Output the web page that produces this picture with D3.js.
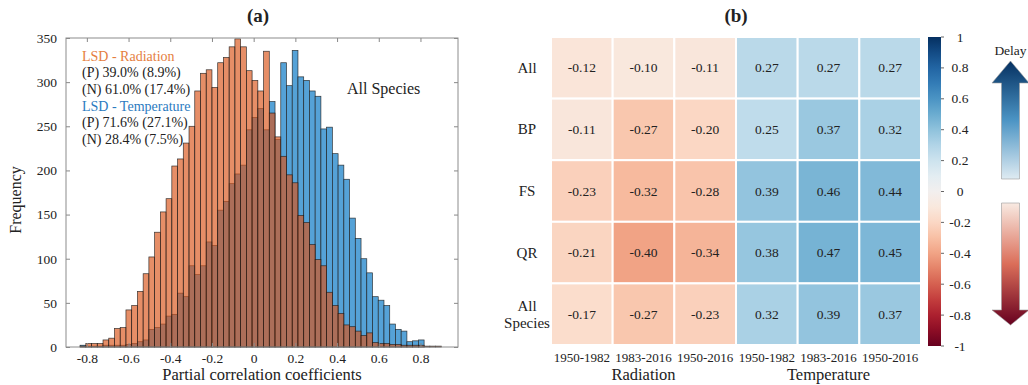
<!DOCTYPE html>
<html>
<head>
<meta charset="utf-8">
<script src="https://cdn.jsdelivr.net/npm/d3@7"></script>
<style>
  body { margin: 0; background: #fff; }
  svg text { font-family: "Liberation Serif", "Times New Roman", serif; fill: #222; }
</style>
</head>
<body>
<div id="chart"></div>
<script>
// ---- (a) histogram data ----
var binStart = -0.8325;
var binWidth = 0.0275;
var radiationCounts = [1, 4, 4, 4, 8, 10, 21, 22, 42, 47, 63, 83, 102, 130, 153, 168, 205, 213, 231, 250,
  290, 310, 314, 294, 322, 328, 340, 349, 340, 313, 302, 290, 335, 265, 238, 216, 195, 186, 149, 141,
  116, 99, 92, 62, 47, 38, 25, 23, 18, 13, 16, 5, 4, 4, 3, 3, 2, 2, 2, 2, 1, 1, 1];
var temperatureCounts = [2, 1, 1, 1, 2, 2, 2, 2, 3, 4, 6, 8, 20, 22, 26, 35, 37, 61, 57, 92,
  82, 92, 119, 115, 155, 165, 185, 196, 206, 246, 260, 270, 246, 278, 235, 322, 296, 336, 306, 302,
  290, 284, 247, 249, 219, 206, 190, 146, 123, 100, 84, 57, 53, 47, 26, 20, 18, 6, 7, 8, 0, 0, 0];
var xTicksA = [-0.8, -0.6, -0.4, -0.2, 0, 0.2, 0.4, 0.6, 0.8];
var yTicksA = [0, 50, 100, 150, 200, 250, 300, 350];
var radiationLines = ["(P) 39.0% (8.9%)", "(N) 61.0% (17.4%)"];
var temperatureLines = ["(P) 71.6% (27.1%)", "(N) 28.4% (7.5%)"];

// ---- (b) heatmap data ----
var rowLabels = ["All", "BP", "FS", "QR", "All Species"];
var periods = ["1950-1982", "1983-2016", "1950-2016"];
var groups = ["Radiation", "Temperature"];
var radiationCorr = [
  [-0.12, -0.10, -0.11],
  [-0.11, -0.27, -0.20],
  [-0.23, -0.32, -0.28],
  [-0.21, -0.40, -0.34],
  [-0.17, -0.27, -0.23]
];
var temperatureCorr = [
  [0.27, 0.27, 0.27],
  [0.25, 0.37, 0.32],
  [0.39, 0.46, 0.44],
  [0.38, 0.47, 0.45],
  [0.32, 0.39, 0.37]
];
var colorbarTicks = [1, 0.8, 0.6, 0.4, 0.2, 0, -0.2, -0.4, -0.6, -0.8, -1];

var svg = d3.select("#chart").append("svg")
  .attr("width", 1028)
  .attr("height", 385);

var fmt = d => d === 0 ? "0" : String(+d.toFixed(1));

// =========== panel (a) ===========
var xA = d3.scaleLinear().domain([-0.9, 0.98]).range([66, 458]);
var yA = d3.scaleLinear().domain([0, 350]).range([347, 38]);

var gA = svg.append("g");

function drawBars(counts, fill, opacity) {
  var bins = counts.map((c, i) => ({ x0: binStart + i * binWidth, x1: binStart + (i + 1) * binWidth, n: c }))
    .filter(b => b.n > 0);
  gA.append("g").selectAll("rect")
    .data(bins)
    .enter()
    .append("rect")
    .attr("x", d => xA(d.x0))
    .attr("width", d => xA(d.x1) - xA(d.x0))
    .attr("y", d => yA(d.n))
    .attr("height", d => yA(0) - yA(d.n))
    .attr("fill", fill)
    .attr("fill-opacity", opacity)
    .attr("stroke", "#1a1a1a")
    .attr("stroke-width", 0.7)
    .attr("stroke-opacity", 0.85);
}
drawBars(temperatureCounts, "#55a2d7", 1);
drawBars(radiationCounts, "#d95319", 0.66);

// axes (MATLAB style, inward ticks on all sides)
var axB = gA.append("g").attr("transform", "translate(0,347)")
  .call(d3.axisBottom(xA).tickValues(xTicksA).tickSize(-4).tickPadding(6).tickFormat(fmt));
var axT = gA.append("g").attr("transform", "translate(0,38)")
  .call(d3.axisTop(xA).tickValues(xTicksA).tickSize(-4).tickFormat(""));
var axL = gA.append("g").attr("transform", "translate(66,0)")
  .call(d3.axisLeft(yA).tickValues(yTicksA).tickSize(-4).tickPadding(9));
var axR = gA.append("g").attr("transform", "translate(458,0)")
  .call(d3.axisRight(yA).tickValues(yTicksA).tickSize(-4).tickFormat(""));
[axB, axT, axL, axR].forEach(function (ax) {
  ax.select(".domain").remove();
  ax.selectAll("line").attr("stroke", "#888");
  ax.selectAll("text").style("font-size", "13.5px").attr("fill", "#333");
});
gA.append("rect")
  .attr("x", 66).attr("y", 38)
  .attr("width", 392).attr("height", 309)
  .attr("fill", "none").attr("stroke", "#8c8c8c").attr("stroke-width", 1);

gA.append("text")
  .attr("x", 258).attr("y", 22)
  .attr("text-anchor", "middle")
  .style("font-size", "19px").style("font-weight", "bold")
  .text("(a)");

gA.append("text")
  .attr("x", 262).attr("y", 380)
  .attr("text-anchor", "middle")
  .style("font-size", "16.5px")
  .text("Partial correlation coefficients");

gA.append("text")
  .attr("transform", "translate(21,200) rotate(-90)")
  .attr("text-anchor", "middle")
  .style("font-size", "16px")
  .text("Frequency");

// legend text
var legend = gA.append("g").style("font-size", "14px");
legend.append("text").attr("x", 82).attr("y", 61).style("fill", "#e57e3e").text("LSD - Radiation");
legend.selectAll(".rl").data(radiationLines).enter().append("text")
  .attr("x", 82).attr("y", (d, i) => 77 + i * 17).text(d => d);
legend.append("text").attr("x", 82).attr("y", 111).style("fill", "#2b7bbf").text("LSD - Temperature");
legend.selectAll(".tl").data(temperatureLines).enter().append("text")
  .attr("x", 82).attr("y", (d, i) => 127 + i * 17).text(d => d);

gA.append("text")
  .attr("x", 347).attr("y", 94)
  .style("font-size", "16px")
  .text("All Species");

// =========== panel (b) ===========
var color = v => d3.interpolateRdBu((v + 1) / 2);

var cols = [];
groups.forEach(g => periods.forEach(p => cols.push(g + "|" + p)));
var cells = [];
rowLabels.forEach(function (r, ri) {
  radiationCorr[ri].forEach((v, ci) => cells.push({ row: r, col: groups[0] + "|" + periods[ci], v: v }));
  temperatureCorr[ri].forEach((v, ci) => cells.push({ row: r, col: groups[1] + "|" + periods[ci], v: v }));
});

var xB = d3.scaleBand().domain(cols).range([551, 921]);
var yB = d3.scaleBand().domain(rowLabels).range([37, 345]);

var gB = svg.append("g");
gB.selectAll("rect.cell")
  .data(cells)
  .enter()
  .append("rect")
  .attr("class", "cell")
  .attr("x", d => xB(d.col))
  .attr("y", d => yB(d.row))
  .attr("width", xB.bandwidth())
  .attr("height", yB.bandwidth())
  .attr("fill", d => color(d.v))
  .attr("stroke", "#fff")
  .attr("stroke-width", 2);

gB.selectAll("text.val")
  .data(cells)
  .enter()
  .append("text")
  .attr("class", "val")
  .attr("x", d => xB(d.col) + xB.bandwidth() / 2)
  .attr("y", d => yB(d.row) + yB.bandwidth() / 2 + 4.5)
  .attr("text-anchor", "middle")
  .style("font-size", "13.5px")
  .text(d => d.v.toFixed(2));

// row labels
gB.selectAll("text.row")
  .data(rowLabels)
  .enter()
  .append("text")
  .attr("class", "row")
  .attr("text-anchor", "middle")
  .style("font-size", "15px")
  .each(function (d) {
    var words = d.split(" ");
    var t = d3.select(this);
    var cy = yB(d) + yB.bandwidth() / 2;
    words.forEach(function (w, i) {
      t.append("tspan")
        .attr("x", 527)
        .attr("y", cy + 5 + (i - (words.length - 1) / 2) * 17)
        .text(w);
    });
  });

// column labels
gB.selectAll("text.col")
  .data(cols)
  .enter()
  .append("text")
  .attr("class", "col")
  .attr("x", d => xB(d) + xB.bandwidth() / 2)
  .attr("y", 362)
  .attr("text-anchor", "middle")
  .style("font-size", "13px")
  .text(d => d.split("|")[1]);

gB.selectAll("text.grp")
  .data(groups)
  .enter()
  .append("text")
  .attr("class", "grp")
  .attr("x", g => (xB(g + "|" + periods[0]) + xB(g + "|" + periods[2]) + xB.bandwidth()) / 2)
  .attr("y", 380)
  .attr("text-anchor", "middle")
  .style("font-size", "16.5px")
  .text(d => d);

gB.append("text")
  .attr("x", 736).attr("y", 22)
  .attr("text-anchor", "middle")
  .style("font-size", "19px").style("font-weight", "bold")
  .text("(b)");

// colorbar
var yC = d3.scaleLinear().domain([-1, 1]).range([346, 37]);
var defs = svg.append("defs");
var cbGrad = defs.append("linearGradient").attr("id", "cbGrad")
  .attr("x1", 0).attr("y1", 1).attr("x2", 0).attr("y2", 0);
d3.range(0, 1.0001, 0.05).forEach(function (t) {
  cbGrad.append("stop").attr("offset", t).attr("stop-color", d3.interpolateRdBu(t));
});
gB.append("rect")
  .attr("x", 928).attr("y", yC(1))
  .attr("width", 13).attr("height", yC(-1) - yC(1))
  .attr("fill", "url(#cbGrad)");
gB.selectAll("line.cbt")
  .data(colorbarTicks)
  .enter()
  .append("line")
  .attr("x1", 941).attr("x2", 944)
  .attr("y1", d => yC(d)).attr("y2", d => yC(d))
  .attr("stroke", "#666");
gB.selectAll("text.cbl")
  .data(colorbarTicks)
  .enter()
  .append("text")
  .attr("x", 960)
  .attr("y", d => yC(d) + 4.5)
  .attr("text-anchor", "middle")
  .style("font-size", "13.5px")
  .text(fmt);

// delay / advance arrows
var upGrad = defs.append("linearGradient").attr("id", "upGrad")
  .attr("x1", 0).attr("y1", 0).attr("x2", 0).attr("y2", 1);
upGrad.append("stop").attr("offset", 0).attr("stop-color", d3.interpolateRdBu(1));
upGrad.append("stop").attr("offset", 0.5).attr("stop-color", d3.interpolateRdBu(0.8));
upGrad.append("stop").attr("offset", 1).attr("stop-color", d3.interpolateRdBu(0.56));
var dnGrad = defs.append("linearGradient").attr("id", "dnGrad")
  .attr("x1", 0).attr("y1", 0).attr("x2", 0).attr("y2", 1);
dnGrad.append("stop").attr("offset", 0).attr("stop-color", d3.interpolateRdBu(0.46));
dnGrad.append("stop").attr("offset", 0.5).attr("stop-color", d3.interpolateRdBu(0.22));
dnGrad.append("stop").attr("offset", 1).attr("stop-color", d3.interpolateRdBu(0));

var ax = 1010.5, sw = 9, hw = 18.5;
var upPath = d3.path();
upPath.moveTo(ax, 61); upPath.lineTo(ax + hw, 83); upPath.lineTo(ax + sw, 83);
upPath.lineTo(ax + sw, 179); upPath.lineTo(ax - sw, 179); upPath.lineTo(ax - sw, 83);
upPath.lineTo(ax - hw, 83); upPath.closePath();
gB.append("path").attr("d", upPath.toString())
  .attr("fill", "url(#upGrad)").attr("stroke", "#9a9a9a").attr("stroke-width", 0.6);

var dnPath = d3.path();
dnPath.moveTo(ax - sw, 203); dnPath.lineTo(ax + sw, 203); dnPath.lineTo(ax + sw, 310);
dnPath.lineTo(ax + hw, 310); dnPath.lineTo(ax, 325); dnPath.lineTo(ax - hw, 310);
dnPath.lineTo(ax - sw, 310); dnPath.closePath();
gB.append("path").attr("d", dnPath.toString())
  .attr("fill", "url(#dnGrad)").attr("stroke", "#9a9a9a").attr("stroke-width", 0.6);

gB.append("text")
  .attr("x", ax).attr("y", 55)
  .attr("text-anchor", "middle")
  .style("font-size", "13.5px")
  .text("Delay");
</script>
</body>
</html>
